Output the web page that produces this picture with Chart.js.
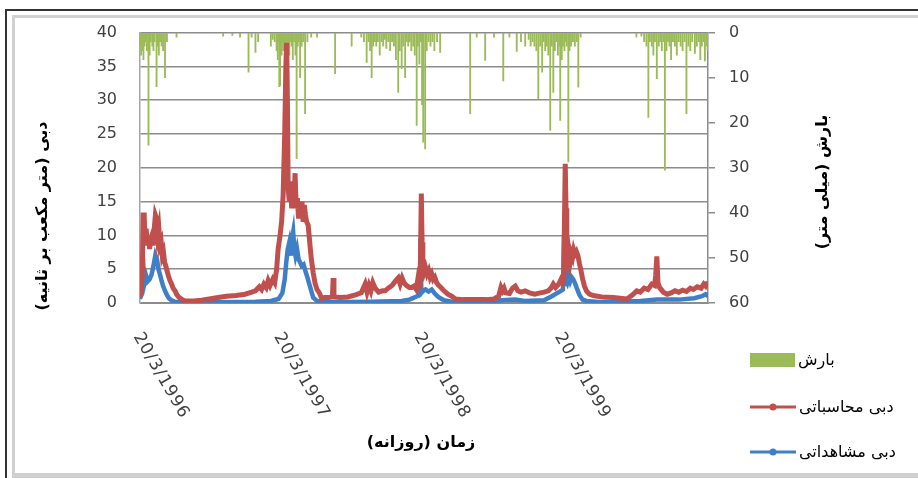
<!DOCTYPE html>
<html>
<head>
<meta charset="utf-8">
<script src="https://cdn.jsdelivr.net/npm/chart.js@4.4.1/dist/chart.umd.min.js"></script>
<style>
  html, body { margin: 0; padding: 0; background: #fff; }
  canvas { display: block; }
</style>
</head>
<body>
<canvas id="flowChart" width="918" height="478"></canvas>
<script>
// days counted from 20/3/1996
const tickDays = [0, 365, 730, 1095];
const tickLabels = ['20/3/1996', '20/3/1997', '20/3/1998', '20/3/1999'];

// simulated discharge (m3/s)
const simDays = [0, 3, 6, 8, 11, 13, 16, 19, 22, 25, 28, 31, 34, 37, 40, 43, 46, 49, 52, 55, 58, 61, 64, 67, 70, 74, 78, 82, 86, 91, 96, 102, 110, 117, 140, 160, 180, 203, 225, 250, 273, 290, 300, 310, 316, 322, 328, 333, 338, 345, 350, 355, 359, 364, 368, 372, 376, 379, 381, 383, 385, 388, 391, 394, 397, 400, 403, 406, 409, 412, 415, 418, 421, 424, 427, 430, 433, 437, 441, 445, 450, 455, 460, 466, 472, 480, 490, 500, 502, 504, 520, 540, 560, 575, 585, 590, 595, 600, 605, 611, 620, 630, 637, 645, 655, 663, 671, 676, 681, 686, 692, 700, 706, 712, 718, 722, 726, 728, 731, 733, 735, 738, 742, 746, 750, 754, 758, 762, 766, 771, 776, 782, 790, 800, 810, 820, 840, 870, 900, 920, 932, 938, 942, 946, 950, 960, 968, 975, 982, 990, 1001, 1012, 1026, 1040, 1050, 1061, 1068, 1074, 1080, 1088, 1094, 1098, 1101, 1105, 1107, 1109, 1112, 1115, 1118, 1121, 1124, 1127, 1130, 1134, 1138, 1142, 1146, 1150, 1155, 1160, 1168, 1178, 1200, 1230, 1265, 1280, 1291, 1300, 1310, 1320, 1330, 1337, 1340, 1343, 1346, 1350, 1360, 1370, 1380, 1390, 1400, 1410, 1420, 1430, 1438, 1448, 1458, 1465, 1470, 1476];
const simFlow = [0.8, 2.5, 4, 13, 13, 9, 11, 8.5, 10, 8, 9.5, 10, 8.5, 11, 13, 12.5, 10, 11, 8.5, 9, 7, 7.5, 6, 5.5, 4.8, 4, 3.3, 2.8, 2.2, 1.8, 1.2, 0.8, 0.5, 0.3, 0.3, 0.4, 0.6, 0.8, 1, 1.1, 1.3, 1.6, 1.8, 2.4, 2.0, 2.8, 2.3, 3.3, 2.6, 3.5, 3.0, 5, 8, 10, 12, 16, 25, 35, 38.5, 30, 17, 15, 18, 14, 17.5, 15, 19.2, 14, 15.5, 12.5, 14.5, 13, 15, 12, 14.5, 13, 12, 11.5, 9, 6.6, 4.5, 2.9, 2, 1.5, 0.7, 0.8, 0.8, 0.9, 3.7, 0.9, 0.8, 0.9, 1.2, 1.5, 2.8, 1.6, 2.6, 1.8, 3, 2.2, 1.6, 1.8, 1.8, 2.2, 2.6, 3.2, 3.7, 2.8, 3.7, 3.0, 2.6, 2.3, 2.3, 2.5, 2.0, 3.5, 2.5, 2.5, 16.2, 9, 5.3, 4.5, 5.2, 4.3, 4.8, 3.8, 4.3, 3.5, 3.8, 3.0, 2.6, 2.3, 1.8, 1.3, 1.0, 0.6, 0.5, 0.5, 0.5, 0.6, 1, 2.3, 1.8, 2.2, 1.5, 1.4, 2.2, 2.5, 1.8, 1.6, 1.8, 1.5, 1.3, 1.5, 1.6, 1.8, 2.2, 2.8, 2.3, 2.8, 3.5, 3, 3.5, 20.6, 14, 8.5, 6.5, 7.5, 6.2, 7.3, 6.8, 7.8, 7.2, 7.6, 7, 5.8, 4.8, 3.6, 2.5, 1.8, 1.3, 1.1, 0.9, 0.8, 0.6, 1.2, 1.8, 1.6, 2.2, 2.0, 2.8, 2.6, 4, 6.9, 3, 2.3, 1.6, 1.3, 1.5, 1.8, 1.6, 1.9, 1.7, 2.2, 2.0, 2.4, 2.2, 2.8, 2.5, 3.1];

// observed discharge (m3/s)
const obsDays = [0, 4, 7, 9, 12, 16, 20, 25, 30, 35, 40, 44, 48, 52, 56, 60, 65, 70, 75, 82, 90, 100, 200, 300, 340, 360, 370, 376, 380, 384, 388, 392, 395, 398, 401, 404, 408, 412, 416, 420, 425, 430, 435, 440, 445, 450, 460, 480, 600, 680, 700, 712, 720, 727, 729, 731, 736, 742, 750, 758, 766, 775, 790, 810, 900, 940, 975, 1000, 1050, 1070, 1085, 1094, 1099, 1102, 1104, 1106, 1110, 1114, 1118, 1122, 1126, 1130, 1135, 1142, 1150, 1160, 1200, 1300, 1343, 1400, 1440, 1460, 1470, 1476];
const obsFlow = [0.6, 1.5, 7.5, 5, 3, 4, 3.2, 3.5, 4.2, 5.5, 7.1, 6.5, 5, 4.2, 3.3, 2.5, 1.8, 1.2, 0.7, 0.4, 0.2, 0.1, 0.1, 0.2, 0.3, 0.6, 1.5, 3.5, 6, 8, 9, 7, 9.5, 10.5, 8, 7, 8, 6.5, 6, 5.5, 5.7, 4.7, 3.8, 2.8, 1.8, 0.8, 0.3, 0.1, 0.2, 0.3, 0.5, 0.8, 1.0, 1.2, 9.5, 1.5, 1.8, 2.0, 1.7, 2.0, 1.4, 0.9, 0.4, 0.2, 0.1, 0.4, 0.5, 0.3, 0.4, 1.0, 1.5, 1.8, 2, 10, 2.5, 3.5, 3, 4, 3.2, 3.8, 3.5, 3, 2.2, 1.2, 0.5, 0.3, 0.1, 0.3, 0.5, 0.5, 0.7, 1.0, 1.3, 1.0];

// daily rainfall (mm)
const rainDays = [1, 3, 5, 7, 9, 12, 15, 18, 22, 25, 28, 32, 35, 38, 43, 46, 49, 52, 56, 60, 65, 70, 95, 216, 240, 260, 282, 290, 300, 307, 340, 345, 350, 355, 358, 360, 362, 364, 366, 368, 370, 372, 374, 376, 378, 380, 382, 385, 388, 391, 394, 397, 400, 404, 407, 410, 413, 416, 420, 424, 429, 435, 445, 460, 507, 550, 575, 582, 589, 594, 598, 602, 606, 610, 614, 618, 623, 628, 632, 636, 640, 645, 650, 655, 660, 665, 671, 675, 680, 684, 689, 693, 697, 701, 705, 710, 714, 719, 722, 726, 730, 733, 736, 741, 745, 750, 755, 760, 765, 772, 780, 858, 875, 897, 920, 944, 960, 979, 990, 1001, 1010, 1015, 1020, 1025, 1030, 1035, 1040, 1045, 1049, 1053, 1057, 1061, 1066, 1070, 1074, 1078, 1082, 1086, 1090, 1092, 1096, 1099, 1103, 1106, 1109, 1113, 1116, 1120, 1125, 1130, 1135, 1139, 1145, 1290, 1303, 1310, 1316, 1321, 1325, 1330, 1334, 1338, 1343, 1348, 1352, 1356, 1360, 1364, 1368, 1372, 1376, 1380, 1385, 1390, 1395, 1400, 1405, 1410, 1415, 1420, 1425, 1430, 1435, 1442, 1447, 1452, 1456, 1460, 1464, 1468, 1472, 1475];
const rainMm = [3, 5, 2, 4, 6, 3, 2, 4, 25, 5, 2, 3, 4, 2, 12, 3, 5, 2, 3, 4, 10, 2, 1, 0.8, 0.6, 1, 8.8, 1, 4.4, 2, 3, 1.5, 2, 4, 6, 2, 12, 11.8, 3, 5, 2, 4, 1.5, 3, 6, 2, 4, 15.5, 5, 2, 3, 6, 2, 5, 28, 3, 2, 10, 3, 2, 18, 2, 1, 1, 9.1, 3, 1, 2, 6.6, 2, 4, 10, 3, 2, 3, 2, 5, 2, 3, 1.5, 3.5, 2, 4, 2, 3, 6, 13.3, 4, 8, 3, 10, 2, 3, 2, 4, 3, 5, 20.6, 3, 7, 2, 16, 24.3, 25.8, 4, 2, 3, 2, 4, 2, 4.4, 18, 1, 6.2, 1, 10.7, 1, 4.2, 2, 3, 1.5, 3, 2, 3, 4, 14.7, 3, 8.8, 2, 4, 3, 5, 21.7, 3, 13.3, 4, 2, 5, 3, 19.5, 6, 3, 4, 2, 3, 28.7, 4, 3, 2, 3, 2, 12.1, 1, 1, 0.8, 2, 3, 18.8, 2, 3, 5, 2, 10.2, 3, 2, 4, 2, 30.5, 4, 2, 3, 6, 2, 3, 5, 2, 3, 4, 2, 18, 3, 4, 2, 4.6, 3, 2, 6, 3, 2, 6.3, 3, 4];

const seriesNames = ['بارش', 'دبی محاسباتی', 'دبی مشاهداتی'];
const RED = '#c0504d', BLUE = '#3f7fc8', GREEN = '#9bbb59';

const toPoints = (xs, ys) => xs.map((d, i) => ({ x: d, y: ys[i] }));

// frame, rotated date labels, axis titles and legend
const decor = {
    id: 'decor',
    beforeDraw(chart) {
        const ctx = chart.ctx;
        ctx.save();
        ctx.fillStyle = '#fff';
        ctx.fillRect(0, 0, chart.width, chart.height);
        ctx.fillStyle = '#d0d0d0';
        ctx.fillRect(12, 15, 906, 3);
        ctx.fillRect(12, 15, 3, 463);
        ctx.fillRect(12, 473, 906, 5);
        ctx.fillStyle = '#333';
        ctx.fillRect(5, 9, 913, 2);
        ctx.fillRect(5, 9, 2, 469);
        ctx.restore();
    },
    afterDraw(chart) {
        const ctx = chart.ctx;
        const xs = chart.scales.x;
        ctx.save();
        ctx.fillStyle = '#404040';
        ctx.font = '17px "DejaVu Sans"';
        ctx.direction = 'ltr';
        if ('letterSpacing' in ctx) ctx.letterSpacing = '1px';
        tickDays.forEach((d, i) => {
            const px = xs.getPixelForValue(d);
            ctx.save();
            ctx.translate(px - 3, 334);
            ctx.rotate(60 * Math.PI / 180);
            ctx.textAlign = 'left';
            ctx.textBaseline = 'middle';
            ctx.fillText(tickLabels[i], 0, 0);
            ctx.restore();
        });
        if ('letterSpacing' in ctx) ctx.letterSpacing = '0px';

        ctx.fillStyle = '#000';
        ctx.direction = 'rtl';
        ctx.textAlign = 'center';
        ctx.textBaseline = 'middle';
        ctx.font = 'bold 16px "DejaVu Sans"';
        ctx.fillText('زمان (روزانه)', 421, 443);

        ctx.save();
        ctx.translate(43, 216);
        ctx.rotate(-Math.PI / 2);
        ctx.fillText('دبی (متر مکعب بر ثانیه)', 0, 0);
        ctx.restore();

        ctx.save();
        ctx.translate(823, 182);
        ctx.rotate(-Math.PI / 2);
        ctx.fillText('بارش (میلی متر)', 0, 0);
        ctx.restore();

        // legend
        ctx.font = '16px "DejaVu Sans"';
        ctx.textAlign = 'left';
        ctx.fillStyle = GREEN;
        ctx.fillRect(750, 353, 45, 14);
        [[RED, 407], [BLUE, 452]].forEach(([c, y]) => {
            ctx.strokeStyle = c;
            ctx.lineWidth = 3;
            ctx.beginPath();
            ctx.moveTo(750, y);
            ctx.lineTo(796, y);
            ctx.stroke();
            ctx.fillStyle = c;
            ctx.beginPath();
            ctx.arc(773, y, 3.5, 0, Math.PI * 2);
            ctx.fill();
        });
        ctx.fillStyle = '#000';
        ctx.fillText(seriesNames[0], 798, 361);
        ctx.fillText(seriesNames[1], 799, 408);
        ctx.fillText(seriesNames[2], 799, 453);
        ctx.restore();
    }
};

const tickFont = { family: 'DejaVu Sans', size: 16 };

new Chart(document.getElementById('flowChart'), {
    type: 'line',
    data: {
        datasets: [
            {
                label: seriesNames[1],
                data: toPoints(simDays, simFlow),
                borderColor: RED,
                backgroundColor: RED,
                borderWidth: 5,
                pointRadius: 0,
                tension: 0,
                yAxisID: 'y',
                order: 0
            },
            {
                label: seriesNames[2],
                data: toPoints(obsDays, obsFlow),
                borderColor: BLUE,
                backgroundColor: BLUE,
                borderWidth: 4.5,
                pointRadius: 0,
                tension: 0,
                yAxisID: 'y',
                order: 1
            },
            {
                type: 'bar',
                label: seriesNames[0],
                data: toPoints(rainDays, rainMm),
                backgroundColor: GREEN,
                borderWidth: 0,
                barThickness: 1.2,
                grouped: false,
                yAxisID: 'y2',
                order: 2
            }
        ]
    },
    options: {
        responsive: false,
        animation: false,
        devicePixelRatio: 1,
        layout: { padding: { top: 32, left: 0, right: 0, bottom: 0 } },
        plugins: { legend: { display: false }, tooltip: { enabled: false } },
        scales: {
            x: {
                type: 'linear',
                offset: false,
                min: 0,
                max: 1476,
                ticks: { display: false },
                grid: { display: false, offset: false },
                border: { display: true, color: '#8c8c8c' },
                afterBuildTicks: s => { s.ticks = tickDays.map(v => ({ value: v })); },
                afterFit: s => { s.height = 175; }
            },
            y: {
                position: 'left',
                min: 0,
                max: 40,
                ticks: { stepSize: 5, padding: 23, color: '#404040', font: tickFont },
                grid: { color: '#8c8c8c', lineWidth: 1.5, drawTicks: false },
                border: { display: true, color: '#a6a6a6', width: 1.5 },
                afterFit: s => { s.width = 140; }
            },
            y2: {
                position: 'right',
                reverse: true,
                min: 0,
                max: 60,
                ticks: { stepSize: 10, padding: 14, color: '#404040', font: tickFont },
                grid: { drawOnChartArea: false, drawTicks: true, tickLength: 7, color: '#8c8c8c', lineWidth: 1.5 },
                border: { display: true, color: '#8c8c8c', width: 1.5 },
                afterFit: s => { s.width = 210; }
            }
        }
    },
    plugins: [decor]
});
</script>
</body>
</html>
